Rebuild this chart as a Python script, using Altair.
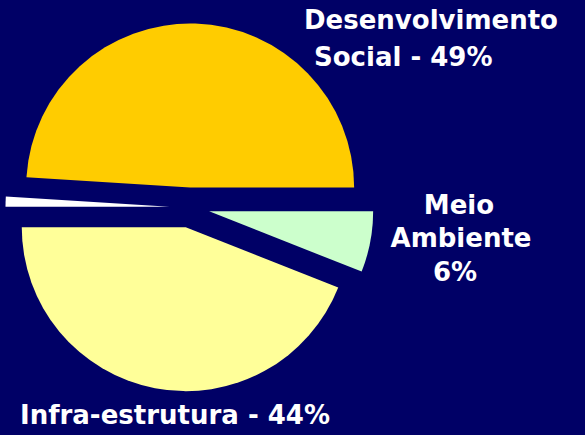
import math
import altair as alt
import pandas as pd

# Data
categories = ["Meio Ambiente", "Infra-estrutura", "Outros", "Desenvolvimento Social"]
values = [6, 44, 1, 49]
colors = ["#CCFFCC", "#FFFF99", "#FFFFFF", "#FFCC00"]

label_desenv = ["Desenvolvimento", "Social - 49%"]
label_meio = ["Meio", "Ambiente", "6%"]
label_infra = "Infra-estrutura - 44%"

df = pd.DataFrame({"categoria": categories, "valor": values, "ordem": list(range(len(categories)))})

CX, CY, R, EXPLODE = 189.5, 207.5, 164, 20

base = alt.Chart(df).transform_window(
    cum="sum(valor)", sort=[alt.SortField("ordem")]
).transform_calculate(
    c0="datum.cum - datum.valor",
    c1="datum.cum",
).transform_calculate(
    mid=f"PI/2 + ((datum.c0 + datum.c1) / 2) / 100 * 2 * PI"
).transform_calculate(
    px=f"{CX} + {EXPLODE} * sin(datum.mid)",
    py=f"{CY} - {EXPLODE} * cos(datum.mid)",
)

pie = base.mark_arc(stroke=None).encode(
    theta=alt.Theta("c0:Q", scale=alt.Scale(domain=[0, 100], range=[math.pi / 2, math.pi / 2 + 2 * math.pi])),
    theta2="c1:Q",
    x=alt.X("px:Q", scale=None),
    y=alt.Y("py:Q", scale=None),
    radius=alt.value(R),
    color=alt.Color("categoria:N", scale=alt.Scale(domain=categories, range=colors), legend=None),
)

FONT = "DejaVu Sans"
FS = 26

def txt(s, x, y, align="left"):
    return alt.Chart(pd.DataFrame({"t": [s]})).mark_text(
        font=FONT, fontSize=FS, fontWeight="bold", color="white", align=align, baseline="alphabetic"
    ).encode(x=alt.value(x), y=alt.value(y), text="t:N")

labels = [
    txt(label_desenv[0], 304, 29),
    txt(label_desenv[1], 314, 66),
    txt(label_meio[0], 459, 214, "center"),
    txt(label_meio[1], 461, 247, "center"),
    txt(label_meio[2], 455, 281, "center"),
    txt(label_infra, 20, 424),
]

chart = alt.layer(pie, *labels).properties(
    width=585, height=435, background="#000066", padding=0,
    autosize=alt.AutoSizeParams(type="none"),
).configure_view(stroke=None)

chart.save("out.html", embed_options={"renderer": "svg", "actions": False})
